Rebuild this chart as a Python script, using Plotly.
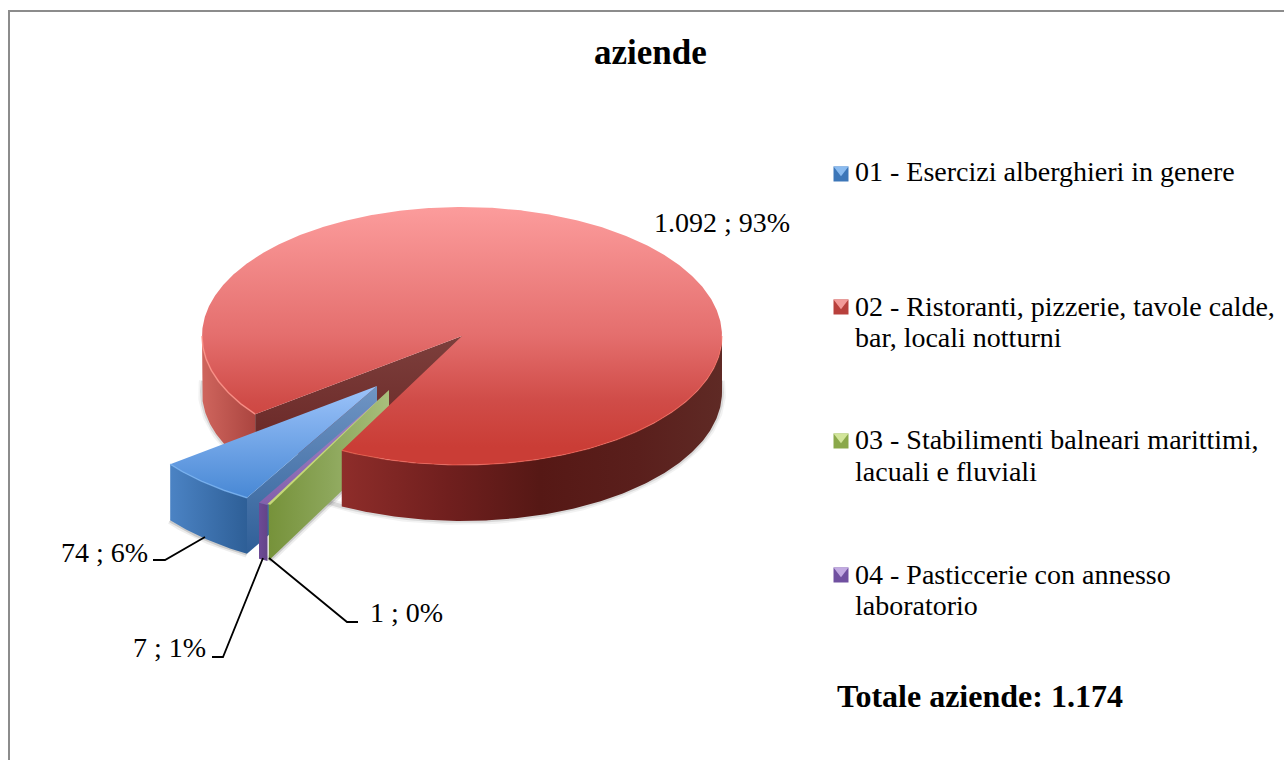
import numpy as np
import plotly.graph_objects as go

# ---- data ----
categories = [["01 - Esercizi alberghieri in genere"],
              ["02 - Ristoranti, pizzerie, tavole calde,", "bar, locali notturni"],
              ["03 - Stabilimenti balneari marittimi,", "lacuali e fluviali"],
              ["04 - Pasticcerie con annesso", "laboratorio"]]
values = [74, 1092, 1, 7]
value_labels = ["74 ; 6%", "1.092 ; 93%", "1 ; 0%", "7 ; 1%"]
title_text = "aziende"
total_text = "Totale aziende: 1.174"

# ---- geometry / style ----
W, H = 1284, 760
CX, CY, RX, RY, DEPTH = 462, 336, 260, 129, 56
START = 210.0
APEX = [(377, 386), (CX, CY), (389, 390), (389, 391)]
FONT = "Liberation Serif"

angles = np.cumsum([0] + [v / sum(values) * 360 for v in values]) + START
SPANS = [(angles[i], angles[i + 1]) for i in range(len(values))]


def arc(a, t0, t1, dy=0, n=None):
    n = n or max(2, int(abs(t1 - t0) * 2) + 2)
    t = np.radians(np.linspace(t0, t1, n))
    return a[0] + RX * np.sin(t), a[1] - RY * np.cos(t) + dy


fig = go.Figure()


def poly(xs, ys, kind=None, stops=None, start=None, stop=None, color=None):
    tr = dict(x=list(xs), y=list(ys), mode="lines", line=dict(width=0), fill="toself",
              hoverinfo="skip", showlegend=False)
    if kind:
        tr["fillgradient"] = dict(type=kind, colorscale=stops, start=start, stop=stop)
    else:
        tr["fillcolor"] = color
    fig.add_trace(go.Scatter(**tr))


def line(xs, ys, color, width):
    fig.add_trace(go.Scatter(x=list(xs), y=list(ys), mode="lines", hoverinfo="skip", showlegend=False,
                             line=dict(color=color, width=width, shape="linear")))


def wall(a, t0, t1, kind, stops, start=None, stop=None):
    x0, y0 = arc(a, t0, t1)
    x1, y1 = arc(a, t1, t0, DEPTH)
    poly(np.r_[x0, x1, x0[0]], np.r_[y0, y1, y0[0]], kind, stops,
         start if start is not None else min(x0), stop if stop is not None else max(x0))


def face(a, t, stops, kind="vertical", start=None, stop=None):
    ox, oy = arc(a, t, t, n=2)
    xs = [a[0], ox[0], ox[0], a[0], a[0]]
    ys = [a[1], oy[0], oy[0] + DEPTH, a[1] + DEPTH, a[1]]
    poly(xs, ys, kind, stops, start if start is not None else min(ys), stop if stop is not None else max(ys))


def top(a, t0, t1, stops, start, stop):
    x, y = arc(a, t0, t1)
    poly(np.r_[a[0], x, a[0]], np.r_[a[1], y, a[1]], "vertical", stops, start, stop)


b0, b1 = SPANS[0]
r0, r1 = SPANS[1]
g0, g1 = SPANS[2]
p0, p1 = SPANS[3]
RED, BLUE, GRN, PUR = APEX[1], APEX[0], APEX[2], APEX[3]

# soft shadows under the solids
bx, by = arc(RED, 85, 275, DEPTH)
for w, c in [(8, "rgba(0,0,0,0.05)"), (4, "rgba(0,0,0,0.10)")]:
    line(bx, by, c, w)
sx, sy = arc(BLUE, b0, b1, DEPTH)
for w, c in [(8, "rgba(0,0,0,0.07)"), (4, "rgba(0,0,0,0.14)")]:
    line(sx, sy, c, w)
gox, goy = arc(GRN, g0, g0, n=2)
for w, c in [(8, "rgba(0,0,0,0.07)"), (4, "rgba(0,0,0,0.14)")]:
    line([GRN[0], gox[0]], [GRN[1] + DEPTH, goy[0] + DEPTH], c, w)

# red slice: parts behind the exploded slices
wall(RED, r0, 270, "horizontal", [[0, "#cf655d"], [1, "#ab4540"]])
face(RED, r0, [[0, "#7d3f3c"], [1, "#662322"]])
hx, hy = arc(RED, r0, 270)

# blue slice
face(BLUE, b0, [[0, "#7095c4"], [1, "#2f5f98"]])
wall(BLUE, b0, b1, "horizontal", [[0, "#4b83c4"], [1, "#2e5f97"]])
top(BLUE, b0, b1, [[0, "#9cc3fa"], [1, "#3b7fcf"]], BLUE[1], BLUE[1] + RY)
bxs, bys = arc(BLUE, b0, b1)
line(bxs, bys, "rgba(120,178,240,0.8)", 1.5)

# purple slice
wall(PUR, g1, p1, "horizontal", [[0, "#6d4a96"], [1, "#634488"]])
top(PUR, g1, p1, [[0, "#a48cc8"], [1, "#7f5aa8"]], PUR[1], PUR[1] + RY)

# green slice
face(GRN, g0, [[0, "#76923a"], [0.5, "#8ca65a"], [1, "#a8bf7c"]], "horizontal", gox[0], GRN[0])
top(GRN, g0 - 0.4, g1, [[0, "#c6d878"], [1, "#c6d878"]], GRN[1], GRN[1] + RY)

# red slice: parts in front of the exploded slices
wall(RED, 90, r1 - 360, "horizontal",
     [[0, "#8e2d2a"], [0.28, "#701f1e"], [0.52, "#561815"], [0.78, "#5a1f1c"], [1, "#5f2a25"]])
top(RED, r0, r1, [[0, "#fc9c9c"], [0.5, "#e46e6d"], [0.75, "#d04c48"], [0.93, "#ca3d36"], [1, "#ca3d36"]],
    CY - RY, CY + RY)
line(hx, hy, "rgba(255,150,140,0.8)", 1.5)
hx, hy = arc(RED, 90, r1 - 360)
line(hx, hy, "rgba(255,110,95,0.55)", 1.2)

# legend keys
key_colors = [("#3c76b8", "#8abbf0"), ("#b8403c", "#f29a98"), ("#8aa84a", "#d2e59a"), ("#7050a0", "#c2aae2")]
key_y = [174, 307, 441, 575]
for (c, l), ky in zip(key_colors, key_y):
    fig.add_trace(go.Scatter(x=[841], y=[ky], mode="markers", hoverinfo="skip", showlegend=False,
                             marker=dict(symbol="square", size=15, color=c, line=dict(width=0))))
    fig.add_trace(go.Scatter(x=[841], y=[ky - 4.25], mode="markers", hoverinfo="skip", showlegend=False,
                             marker=dict(symbol="triangle-down", size=13, color=l, line=dict(width=0))))

# leader lines
line([153, 165, 205], [560, 560, 537], "#000000", 1.8)
line([212, 223, 263], [657, 657, 558], "#000000", 1.8)
line([358, 347, 269], [622, 622, 558], "#000000", 1.8)


def txt(x, y, s, size, anchor="left", bold=False):
    if bold:
        s = f"<b>{s}</b>"
    fig.add_annotation(x=x, y=y, xref="x", yref="y", text=s, showarrow=False, xanchor=anchor, yanchor="middle",
                       align="left", font=dict(family=FONT, size=size, color="#000000"))


LEG_Y = [[171], [306, 337], [439, 471], [574, 605]]
txt(650, 52, title_text, 35, "center", True)
for lines, ys in zip(categories, LEG_Y):
    for s, y in zip(lines, ys):
        txt(853, y, s, 28)
txt(835, 696, total_text, 32, "left", True)
txt(652, 222, value_labels[1], 28)
txt(150, 552, value_labels[0], 28, "right")
txt(208, 647, value_labels[3], 28, "right")
txt(368, 612, value_labels[2], 28)

fig.update_layout(
    width=W, height=H, margin=dict(l=0, r=0, t=0, b=0), paper_bgcolor="white", plot_bgcolor="white",
    showlegend=False,
    xaxis=dict(range=[0, W], visible=False, fixedrange=True),
    yaxis=dict(range=[H, 0], visible=False, fixedrange=True),
    shapes=[
        dict(type="line", x0=9, x1=9, y0=10, y1=H, line=dict(color="#8c8c8c", width=2)),
        dict(type="line", x0=8, x1=W, y0=11, y1=11, line=dict(color="#8c8c8c", width=2)),
    ],
)
fig.write_html("out.html", config={"displayModeBar": False},
               post_script="document.body.style.margin='0';document.body.style.overflow='hidden';")
